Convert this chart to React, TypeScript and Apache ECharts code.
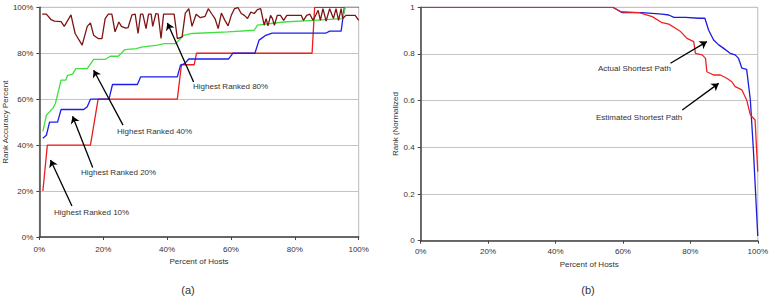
import React, { useEffect, useRef } from "react";
import * as echarts from "echarts";

// ---- Chart (a) data: [percent of hosts, rank accuracy %] ----
const ranked10: number[][] = [
  [1.1, 20], [2.5, 40], [16, 40], [18.4, 60], [43.2, 60], [44.5, 75], [48.5, 75], [49.2, 80],
  [85.4, 80], [86.2, 100], [100, 100],
];
const ranked20: number[][] = [
  [1.1, 43], [2.2, 44.3], [3.2, 50], [5.7, 50], [6.8, 55.5], [13.9, 55.5], [15, 56.7], [16, 60],
  [21.8, 60], [22.9, 66.4], [30.7, 66.4], [31.7, 69.7], [43.2, 69.7], [44.2, 74.8], [45.5, 75.5],
  [46.8, 77.5], [59.3, 77.5], [60.6, 80], [67.5, 80], [68.8, 85.7], [70.9, 87.8], [72.9, 88.8],
  [89.8, 88.8], [90.9, 89.6], [94.5, 89.6], [95.5, 100], [100, 100],
];
const ranked40: number[][] = [
  [1.1, 46], [2.2, 53], [4.2, 56], [5, 58], [6.8, 68.3], [8.3, 68.3], [8.8, 70.4], [10.4, 70.9],
  [11.4, 73.3], [15, 73.3], [17, 77.3], [20.6, 77.3], [22.2, 78.7], [24.7, 78.7], [26.8, 81.6],
  [30.4, 82], [31.9, 82.7], [37, 83.5], [39.1, 84.2], [42.7, 84.2], [45.2, 87.8], [47.8, 88.6],
  [59, 89.3], [67.3, 90], [68.3, 92.2], [76.5, 93.6], [85.7, 94.3], [95, 95.1], [95.8, 100], [100, 100],
];
const ranked80: number[][] = [
  [0.9, 97], [2.2, 97], [3.7, 94.6], [4.7, 94], [6.8, 93.8], [7.8, 91.7], [9.9, 96.7], [11.2, 88.6],
  [13.4, 83.5], [15, 91.7], [16, 93.2], [17, 87.8], [18.4, 86.4], [19.6, 86.4], [20.6, 95.1],
  [21.6, 97], [22.7, 97], [23.7, 89.3], [24.9, 93.6], [25.7, 91.7], [27, 90.9], [27.8, 91.2],
  [29, 96.7], [30, 97], [30.9, 88.6], [31.7, 97], [32.4, 97], [33.4, 90.7], [34.2, 97], [35, 97],
  [35.5, 91.7], [36.5, 97.3], [37.2, 97], [38.1, 86.4], [38.9, 97], [42.2, 97], [43.2, 86.4],
  [44.7, 87.1], [45.7, 97.5], [46.8, 99.4], [47.8, 91.7], [49.1, 97], [50.4, 95.5], [51.9, 96.1],
  [52.9, 99.4], [53.9, 97.3], [55, 95.1], [56, 90.7], [57, 97.5], [58.1, 94.3], [59.1, 91.9],
  [60.1, 96.5], [61.1, 99.4], [62.2, 99.9], [63.2, 97.3], [64.2, 96.5], [65.2, 95.1], [66.2, 97.9],
  [67.3, 97.3], [68.3, 99], [69.3, 99.4], [70.4, 92.2], [71, 95.1], [71.6, 91.9], [72.4, 96.5],
  [73, 95.1], [73.6, 92.2], [74.5, 96.5], [75.5, 96.5], [76.5, 94.3], [77.5, 96.5], [79.6, 96.5],
  [82, 96.5], [82.7, 94.3], [83.7, 96.5], [84.7, 97], [85.7, 94.3], [86.8, 97.3], [87.3, 98.7],
  [88, 94.3], [88.8, 99.4], [89.8, 94], [90.9, 99.4], [92.1, 95.1], [92.9, 99.4], [93.7, 94.3],
  [94.5, 99.4], [95, 95.1], [96, 96.5], [98.9, 96.5], [100, 94.3],
];

// ---- Chart (b) data: [percent of hosts, normalized rank] ----
const actualPath: number[][] = [
  [0, 1], [57, 1], [59.8, 0.977], [65.7, 0.977], [71.6, 0.971], [73.6, 0.967], [75.1, 0.957],
  [78.6, 0.957], [82.5, 0.953], [84.3, 0.953], [85.4, 0.903], [86.9, 0.86], [88.4, 0.839],
  [89.9, 0.824], [91.8, 0.803], [93.3, 0.796], [94.3, 0.781], [95.3, 0.739], [96.7, 0.734],
  [97.8, 0.603], [98.7, 0.389], [100, 0.02],
];
const estimatedPath: number[][] = [
  [0, 1], [57, 1], [59.4, 0.981], [64.8, 0.977], [68.7, 0.96], [71.6, 0.934], [73.6, 0.928],
  [75.6, 0.91], [77.1, 0.896], [79, 0.867], [81, 0.853], [81.5, 0.803], [83.5, 0.796], [84.5, 0.781],
  [84.9, 0.724], [86.9, 0.71], [88.9, 0.71], [90.8, 0.696], [92.3, 0.681], [93.3, 0.66],
  [95.3, 0.646], [96.7, 0.603], [97.8, 0.539], [99.2, 0.517], [100, 0.296],
];

// Annotation arrows in data coordinates: [from, to]
const arrowsA: number[][][] = [
  [[10.2, 13.5], [3.5, 33.5]],
  [[16.7, 30.3], [10.4, 52.6]],
  [[26.2, 48.7], [17, 72.6]],
  [[48.3, 67.5], [40.1, 93.2]],
];
const arrowsB: number[][][] = [
  [[74.1, 0.76], [84.9, 0.853]],
  [[77.6, 0.56], [88.4, 0.674]],
];

const FONT = "'Liberation Sans', Arial, sans-serif";
const TXT = "#333";

function axisCommon() {
  return {
    axisLine: { show: true, lineStyle: { color: "#444", width: 1.5 } },
    axisTick: { show: true, length: 3, lineStyle: { color: "#444" } },
    splitLine: { show: true, lineStyle: { color: "#c4c4c4", width: 1 } },
    axisLabel: { fontSize: 8, color: TXT, fontFamily: FONT },
    nameTextStyle: { fontSize: 8, color: TXT, fontFamily: FONT },
  };
}

function arrowMarkLine(arrows: number[][][]) {
  return {
    silent: true,
    symbol: ["none", "arrow"],
    symbolSize: 7,
    label: { show: false },
    lineStyle: { color: "#000", width: 1.3, type: "solid" },
    data: arrows.map((a) => [{ coord: a[0] }, { coord: a[1] }]),
  };
}

export default function App() {
  const ref = useRef<HTMLDivElement>(null);
  useEffect(() => {
    if (!ref.current) return;
    const chart = echarts.init(ref.current, undefined, { renderer: "svg" });
    const pct = (v: number) => v + "%";
    const label = (text: string, x: number, y: number, size = 8, align = "left") => ({
      type: "text",
      x,
      y,
      silent: true,
      style: {
        text,
        fontSize: size,
        fontFamily: FONT,
        fill: TXT,
        align,
        verticalAlign: "middle",
      },
    });
    chart.setOption({
      animation: false,
      backgroundColor: "#fff",
      grid: [
        { left: 33, top: 7.3, width: 325.7, height: 229.7, show: true, borderColor: "#bbb", borderWidth: 1 },
        { left: 420.7, top: 7.3, width: 338.6, height: 233.4, show: true, borderColor: "#bbb", borderWidth: 1 },
      ],
      xAxis: [
        {
          ...axisCommon(),
          type: "value",
          gridIndex: 0,
          min: 0,
          max: 100,
          interval: 20,
          name: "Percent of Hosts",
          nameLocation: "middle",
          nameGap: 19,
          axisLabel: { ...axisCommon().axisLabel, formatter: pct, margin: 8 },
          splitLine: { show: false },
        },
        {
          ...axisCommon(),
          type: "value",
          gridIndex: 1,
          min: 0,
          max: 100,
          interval: 20,
          name: "Percent of Hosts",
          nameLocation: "middle",
          nameGap: 20,
          axisLabel: { ...axisCommon().axisLabel, formatter: pct, margin: 7 },
          splitLine: { show: false },
        },
      ],
      yAxis: [
        {
          ...axisCommon(),
          type: "value",
          gridIndex: 0,
          min: 0,
          max: 100,
          interval: 20,
          name: "Rank Accuracy Percent",
          nameLocation: "middle",
          nameGap: 21,
          axisLabel: { ...axisCommon().axisLabel, formatter: pct, margin: 6 },
        },
        {
          ...axisCommon(),
          type: "value",
          gridIndex: 1,
          min: 0,
          max: 1,
          interval: 0.2,
          name: "Rank (Normalized",
          nameLocation: "middle",
          nameGap: 20,
          axisLabel: { ...axisCommon().axisLabel, margin: 6 },
        },
      ],
      series: [
        {
          type: "line",
          name: "Highest Ranked 10%",
          xAxisIndex: 0,
          yAxisIndex: 0,
          data: ranked10,
          showSymbol: false,
          lineStyle: { color: "#ee1c1c", width: 1.3 },
          markLine: arrowMarkLine(arrowsA),
        },
        {
          type: "line",
          name: "Highest Ranked 20%",
          xAxisIndex: 0,
          yAxisIndex: 0,
          data: ranked20,
          showSymbol: false,
          lineStyle: { color: "#1c1cee", width: 1.3 },
        },
        {
          type: "line",
          name: "Highest Ranked 40%",
          xAxisIndex: 0,
          yAxisIndex: 0,
          data: ranked40,
          showSymbol: false,
          lineStyle: { color: "#3fe03f", width: 1.3 },
        },
        {
          type: "line",
          name: "Highest Ranked 80%",
          xAxisIndex: 0,
          yAxisIndex: 0,
          data: ranked80,
          showSymbol: false,
          lineStyle: { color: "#7f1414", width: 1.3 },
        },
        {
          type: "line",
          name: "Actual Shortest Path",
          xAxisIndex: 1,
          yAxisIndex: 1,
          data: actualPath,
          showSymbol: false,
          lineStyle: { color: "#1c1cdd", width: 1.3 },
          markLine: arrowMarkLine(arrowsB),
        },
        {
          type: "line",
          name: "Estimated Shortest Path",
          xAxisIndex: 1,
          yAxisIndex: 1,
          data: estimatedPath,
          showSymbol: false,
          lineStyle: { color: "#ee2222", width: 1.3 },
        },
      ],
      graphic: [
        label("Highest Ranked 10%", 54, 212),
        label("Highest Ranked 20%", 81, 172),
        label("Highest Ranked 40%", 117, 131),
        label("Highest Ranked 80%", 193, 86),
        label("Actual Shortest Path", 598, 68),
        label("Estimated Shortest Path", 596, 117),
        label("(a)", 188, 290, 11, "center"),
        label("(b)", 588, 290, 11, "center"),
      ],
    });
    return () => chart.dispose();
  }, []);
  return (
    <div
      ref={ref}
      style={{ position: "fixed", left: 0, top: 0, width: 771, height: 297, background: "#fff" }}
    />
  );
}
